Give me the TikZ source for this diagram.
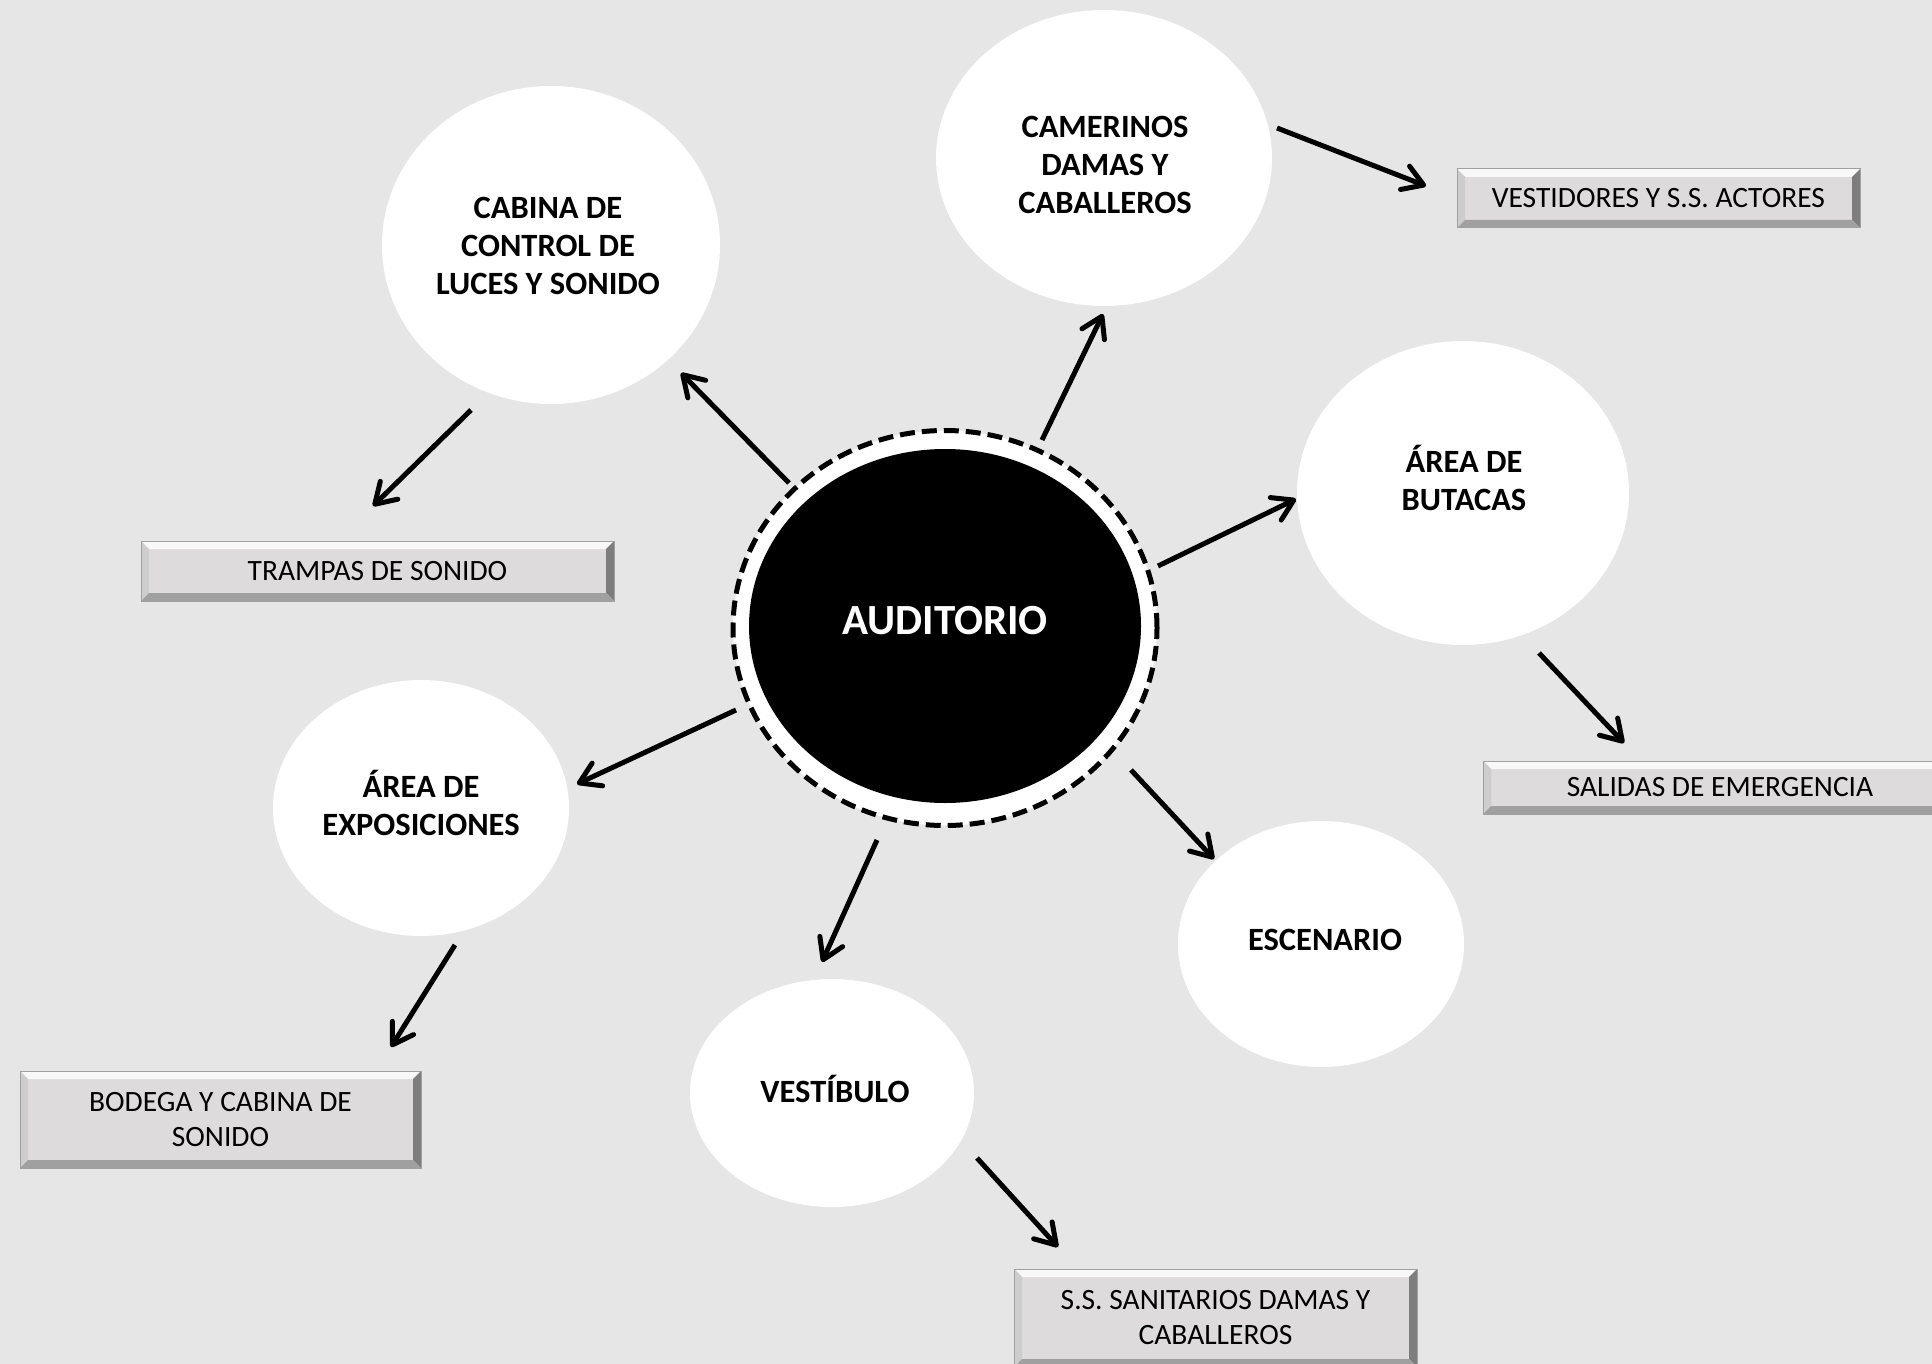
\documentclass[tikz,border=0pt]{standalone}
\usepackage{fontspec}
\setmainfont{Carlito}
\usetikzlibrary{shapes.geometric,arrows.meta}
\definecolor{bg}{RGB}{230,230,230}
\definecolor{face}{RGB}{221,219,220}
\definecolor{edge}{RGB}{160,160,160}
\definecolor{btop}{RGB}{248,248,248}
\definecolor{bleft}{RGB}{205,205,205}
\definecolor{bright}{RGB}{125,125,125}
\definecolor{bbot}{RGB}{160,160,160}
\begin{document}
\begin{tikzpicture}[x=1pt,y=-1pt,
 bub/.style={ellipse, fill=white, inner sep=0pt},
 btxt/.style={align=center, inner sep=0pt, font=\fontsize{32.5}{38}\selectfont\bfseries},
 arr/.style={line width=5pt, -{Straight Barb[length=20pt,width=25pt,line width=5pt,round]}},
 bevel/.style={rectangle, inner sep=0pt, fill=face, draw=edge, line width=1pt, align=center,
   font=\fontsize{29.5}{35}\selectfont,
   path picture={
   \fill[btop] (path picture bounding box.north west) -- (path picture bounding box.north east)
     -- ([shift={(-8pt,-8pt)}]path picture bounding box.north east)
     -- ([shift={(8pt,-8pt)}]path picture bounding box.north west) -- cycle;
   \fill[bleft] (path picture bounding box.north west) -- ([shift={(8pt,-8pt)}]path picture bounding box.north west)
     -- ([shift={(8pt,8pt)}]path picture bounding box.south west) -- (path picture bounding box.south west) -- cycle;
   \fill[bright] (path picture bounding box.north east) -- ([shift={(-8pt,-8pt)}]path picture bounding box.north east)
     -- ([shift={(-8pt,8pt)}]path picture bounding box.south east) -- (path picture bounding box.south east) -- cycle;
   \fill[bbot] (path picture bounding box.south west) -- ([shift={(8pt,8pt)}]path picture bounding box.south west)
     -- ([shift={(-8pt,8pt)}]path picture bounding box.south east) -- (path picture bounding box.south east) -- cycle;
   }}
]
\useasboundingbox (0,0) rectangle (1932,1364);
\clip (0,0) rectangle (1932,1364);
\fill[bg] (0,0) rectangle (1932,1364);

% center
\node[ellipse, fill=white, draw=black, line width=5pt, dash pattern=on 15pt off 7pt,
  minimum width=424pt, minimum height=395pt, inner sep=0pt] (ring) at (945,628) {};
\node[ellipse, fill=black, minimum width=392pt, minimum height=354pt, inner sep=0pt] (aud) at (945,626) {};
\node[text=white, font=\fontsize{43}{46}\selectfont\bfseries, inner sep=0pt] (taud) at (945,621) {AUDITORIO};

% bubbles
\node[bub, minimum width=338pt, minimum height=318pt] (cab) at (551,245) {};
\node[btxt] (tcab) at (548,246) {CABINA DE\\CONTROL DE\\LUCES Y SONIDO};
\node[bub, minimum width=336pt, minimum height=296pt] (cam) at (1104,158) {};
\node[btxt] (tcam) at (1105,165) {CAMERINOS\\DAMAS Y\\CABALLEROS};
\node[bub, minimum width=332pt, minimum height=304pt] (but) at (1463,493) {};
\node[btxt] (tbut) at (1464,478) {ÁREA DE\\BUTACAS};
\node[bub, minimum width=296pt, minimum height=256pt] (exp) at (421,808) {};
\node[btxt] (texp) at (421,803) {ÁREA DE\\EXPOSICIONES};
\node[bub, minimum width=286pt, minimum height=246pt] (esc) at (1321,944) {};
\node[btxt] (tesc) at (1325,940) {ESCENARIO};
\node[bub, minimum width=284pt, minimum height=228pt] (ves) at (832,1093) {};
\node[btxt] (tves) at (835,1089) {VESTÍBULO};

% boxes
\node[bevel, minimum width=403pt, minimum height=59pt] (bvest) at (1658.5,198.5) {VESTIDORES Y S.S. ACTORES};
\node[bevel, minimum width=473pt, minimum height=60pt] (btra) at (377.5,571) {TRAMPAS DE SONIDO};
\node[bevel, minimum width=474pt, minimum height=53pt] (bsal) at (1720,787.5) {SALIDAS DE EMERGENCIA};
\node[bevel, minimum width=401pt, minimum height=97pt] (bbod) at (220.5,1119.5) {BODEGA Y CABINA DE\\SONIDO};
\node[bevel, minimum width=403pt, minimum height=98pt] (bss) at (1215.5,1318) {S.S. SANITARIOS DAMAS Y\\CABALLEROS};

% arrow endpoints
\coordinate (a1s) at (789,483);   \coordinate (a1e) at (681,373);
\coordinate (a2s) at (471,410);   \coordinate (a2e) at (373,506);
\coordinate (a3s) at (1042,440);  \coordinate (a3e) at (1103,314);
\coordinate (a4s) at (1277,128);  \coordinate (a4e) at (1426,186);
\coordinate (a5s) at (1158,566);  \coordinate (a5e) at (1296,499);
\coordinate (a6s) at (1539,653);  \coordinate (a6e) at (1624,743);
\coordinate (a7s) at (736,710);   \coordinate (a7e) at (577,784);
\coordinate (a8s) at (455,945);   \coordinate (a8e) at (391,1047);
\coordinate (a9s) at (1131,770);  \coordinate (a9e) at (1214,859);
\coordinate (a10s) at (877,840);  \coordinate (a10e) at (822,962);
\coordinate (a11s) at (977,1158); \coordinate (a11e) at (1058,1247);

\draw[arr] (a1s) -- (a1e);
\draw[arr] (a2s) -- (a2e);
\draw[arr] (a3s) -- (a3e);
\draw[arr] (a4s) -- (a4e);
\draw[arr] (a5s) -- (a5e);
\draw[arr] (a6s) -- (a6e);
\draw[arr] (a7s) -- (a7e);
\draw[arr] (a8s) -- (a8e);
\draw[arr] (a9s) -- (a9e);
\draw[arr] (a10s) -- (a10e);
\draw[arr] (a11s) -- (a11e);
\end{tikzpicture}
\end{document}
